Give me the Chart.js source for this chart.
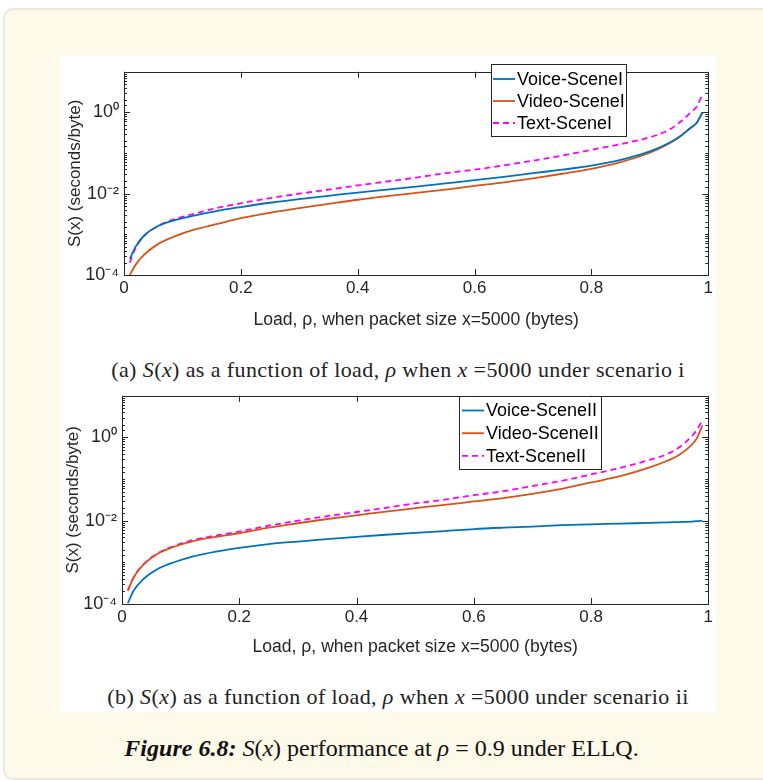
<!DOCTYPE html>
<html>
<head>
<meta charset="utf-8">
<script src="https://cdn.jsdelivr.net/npm/chart.js@4.4.1/dist/chart.umd.min.js"></script>
<style>
  body { margin: 0; width: 763px; height: 780px; overflow: hidden; position: relative; background: #fff; }
  #box { position: absolute; left: 3px; top: 8px; width: 790px; height: 768px; background: #fefaea; border: 2px solid #ebe8dc; border-radius: 10px; }
  #fig { position: absolute; left: 60px; top: 56px; width: 656px; height: 656px; background: #fff; }
  canvas { position: absolute; left: 60px; }
  #c1 { top: 56px; }
  #c2 { top: 380px; }
  .cap { position: absolute; left: 10px; width: 656px; text-align: center; line-height: 24px; letter-spacing: 0.4px;
         font-family: "Liberation Serif", "Times New Roman", serif; font-size: 22px; color: #222; }
  #figcap { position: absolute; left: 0; width: 763px; top: 733px; line-height: 30px; text-align: center;
            font-family: "Liberation Serif", "Times New Roman", serif; font-size: 24px; color: #111; }
</style>
</head>
<body>
<div id="box"></div>
<div id="fig">
  <div class="cap" style="top:302px">(a) <i>S</i>(<i>x</i>) as a function of load, <i>ρ</i> when <i>x</i> =5000 under scenario i</div>
  <div class="cap" style="top:629px">(b) <i>S</i>(<i>x</i>) as a function of load, <i>ρ</i> when <i>x</i> =5000 under scenario ii</div>
</div>
<canvas id="c1" width="656" height="284"></canvas>
<canvas id="c2" width="656" height="287"></canvas>
<div id="figcap"><b><i>Figure 6.8:</i></b> <i>S</i>(<i>x</i>) performance at <i>ρ</i> = 0.9 under ELLQ.</div>

<script>
// load values (x axis)
const rho = [0.01, 0.02, 0.035, 0.06, 0.09, 0.12, 0.16, 0.2, 0.25, 0.3, 0.35, 0.4, 0.45, 0.5,
  0.55, 0.6, 0.65, 0.7, 0.75, 0.8, 0.85, 0.9, 0.93, 0.95, 0.97, 0.98, 0.99];

// scenario i, S(x) in seconds/byte
const voiceI = [2.5e-4, 5.0e-4, 9.5e-4, 1.65e-3, 2.3e-3, 2.9e-3, 3.8e-3, 4.7e-3, 6.0e-3, 7.4e-3, 8.9e-3,
  1.07e-2, 1.26e-2, 1.5e-2, 1.8e-2, 2.15e-2, 2.6e-2, 3.2e-2, 3.9e-2, 4.9e-2, 6.8e-2, 0.11, 0.17, 0.25, 0.42, 0.55, 1.0];
const videoI = [1.0e-4, 1.8e-4, 3.2e-4, 6.0e-4, 9.3e-4, 1.3e-3, 1.8e-3, 2.5e-3, 3.4e-3, 4.4e-3, 5.6e-3,
  7.1e-3, 8.7e-3, 1.05e-2, 1.26e-2, 1.56e-2, 1.9e-2, 2.4e-2, 3.1e-2, 4.1e-2, 6.0e-2, 0.102, 0.162, 0.245, 0.42, 0.55, 1.0];
const textI = [2.0e-4, 4.7e-4, 9.3e-4, 1.66e-3, 2.45e-3, 3.2e-3, 4.5e-3, 5.8e-3, 7.8e-3, 1.0e-2, 1.26e-2,
  1.6e-2, 2.0e-2, 2.5e-2, 3.2e-2, 3.9e-2, 5.0e-2, 6.5e-2, 8.7e-2, 0.12, 0.166, 0.245, 0.355, 0.55, 1.0, 1.38, 2.75];

// scenario ii
const voiceII = [1.05e-4, 2.1e-4, 3.8e-4, 6.8e-4, 1.02e-3, 1.38e-3, 1.82e-3, 2.24e-3, 2.75e-3, 3.16e-3, 3.6e-3,
  4.1e-3, 4.6e-3, 5.1e-3, 5.6e-3, 6.3e-3, 6.8e-3, 7.2e-3, 7.8e-3, 8.2e-3, 8.5e-3, 8.9e-3, 9.1e-3, 9.3e-3, 9.5e-3, 9.8e-3, 1.0e-2];
const videoII = [2.1e-4, 4.4e-4, 8.3e-4, 1.58e-3, 2.4e-3, 3.2e-3, 4.1e-3, 5.0e-3, 6.8e-3, 8.7e-3, 1.1e-2,
  1.35e-2, 1.66e-2, 2.0e-2, 2.4e-2, 2.9e-2, 3.5e-2, 4.4e-2, 5.8e-2, 8.3e-2, 0.117, 0.19, 0.275, 0.38, 0.63, 0.93, 1.95];
const textII = [2.1e-4, 4.4e-4, 8.5e-4, 1.62e-3, 2.5e-3, 3.4e-3, 4.4e-3, 5.5e-3, 7.6e-3, 1.0e-2, 1.29e-2,
  1.62e-2, 2.04e-2, 2.6e-2, 3.2e-2, 4.1e-2, 5.1e-2, 6.8e-2, 9.1e-2, 0.129, 0.186, 0.29, 0.4, 0.575, 1.0, 1.48, 2.6];

const labelsI = ["Voice-SceneI", "Video-SceneI", "Text-SceneI"];
const labelsII = ["Voice-SceneII", "Video-SceneII", "Text-SceneII"];

// tick labels
const xTicks = [0, 0.2, 0.4, 0.6, 0.8, 1];
const xTickLabels = ["0", "0.2", "0.4", "0.6", "0.8", "1"];
const yLabelExp = [-4, -2, 0];

const SUP = { "0": "⁰", "1": "¹", "2": "²", "3": "³", "4": "⁴", "-": "⁻" };
const pow10 = e => "10" + String(e).split("").map(c => SUP[c]).join("");
const expOf = v => {
  const e = Math.log10(v);
  return Math.abs(e - Math.round(e)) < 1e-6 ? Math.round(e) : null;
};

const AXIS = "#262626";
const FONT = "'Liberation Sans', Arial, sans-serif";

// MATLAB-like box with inward ticks on all four sides
const matlabBox = {
  id: "matlabBox",
  afterDatasetsDraw(chart) {
    const { ctx, chartArea: a, scales: { x, y } } = chart;
    ctx.save();
    ctx.strokeStyle = AXIS;
    ctx.lineWidth = 1;
    ctx.beginPath();
    x.ticks.forEach(t => {
      const px = Math.round(x.getPixelForValue(t.value)) + 0.5;
      ctx.moveTo(px, a.bottom); ctx.lineTo(px, a.bottom - 6);
      ctx.moveTo(px, a.top); ctx.lineTo(px, a.top + 6);
    });
    y.ticks.forEach(t => {
      const e = expOf(t.value);
      const len = e !== null && yLabelExp.includes(e) ? 6 : 3;
      const py = Math.round(y.getPixelForValue(t.value)) + 0.5;
      ctx.moveTo(a.left, py); ctx.lineTo(a.left + len, py);
      ctx.moveTo(a.right, py); ctx.lineTo(a.right - len, py);
    });
    ctx.stroke();
    ctx.strokeRect(Math.round(a.left) + 0.5, Math.round(a.top) + 0.5, Math.round(a.width), Math.round(a.height));
    ctx.restore();
  }
};

// legend box drawn inside the axes, like MATLAB's "northeast" legend
const boxLegend = {
  id: "boxLegend",
  afterDraw(chart, args, o) {
    const { ctx } = chart;
    const sets = chart.data.datasets;
    ctx.save();
    ctx.fillStyle = "#fff";
    ctx.fillRect(o.left, o.top, o.width, o.height);
    ctx.strokeStyle = AXIS;
    ctx.lineWidth = 1;
    ctx.strokeRect(o.left + 0.5, o.top + 0.5, o.width, o.height);
    ctx.font = "18px " + FONT;
    ctx.textBaseline = "middle";
    sets.forEach((ds, i) => {
      const cy = o.top + o.first + i * o.row;
      ctx.strokeStyle = ds.borderColor;
      ctx.lineWidth = ds.borderWidth;
      ctx.setLineDash(ds.borderDash || []);
      ctx.beginPath();
      ctx.moveTo(o.left + o.lineFrom, cy);
      ctx.lineTo(o.left + o.lineTo, cy);
      ctx.stroke();
      ctx.setLineDash([]);
      ctx.fillStyle = "#000";
      ctx.fillText(ds.label, o.left + o.textX, cy + 1);
    });
    ctx.restore();
  }
};

function series(label, values, color, dash) {
  return {
    label,
    data: rho.map((r, i) => ({ x: r, y: values[i] })),
    borderColor: color,
    borderWidth: 1.8,
    borderDash: dash,
    pointRadius: 0,
    cubicInterpolationMode: "monotone",
    fill: false
  };
}

function makeChart(id, labels, voice, video, text, L) {
  new Chart(document.getElementById(id), {
    type: "line",
    data: {
      datasets: [
        series(labels[0], voice, "#0072BD"),
        series(labels[1], video, "#D95319"),
        series(labels[2], text, "#FF00FF", [6, 4])
      ]
    },
    options: {
      responsive: false,
      animation: false,
      layout: { padding: { top: L.top, right: L.right, left: 0, bottom: 0 } },
      plugins: {
        legend: { display: false },
        tooltip: { enabled: false },
        boxLegend: L.legend
      },
      scales: {
        x: {
          type: "linear",
          min: 0,
          max: 1,
          afterBuildTicks: s => { s.ticks = xTicks.map(v => ({ value: v })); },
          afterFit: s => { s.height = L.xHeight; },
          grid: { display: false, drawTicks: false },
          border: { display: false },
          ticks: {
            padding: 3,
            color: AXIS,
            font: { family: FONT, size: 17 },
            maxRotation: 0,
            callback: (v, i) => xTickLabels[i]
          },
          title: {
            display: true,
            text: "Load, ρ, when packet size x=5000 (bytes)",
            color: AXIS,
            font: { family: FONT, size: 17.6 },
            padding: { top: 0, bottom: 9 }
          }
        },
        y: {
          type: "logarithmic",
          min: 1e-4,
          max: 10,
          afterFit: s => { s.width = L.yWidth; },
          grid: { display: false, drawTicks: false },
          border: { display: false },
          ticks: {
            autoSkip: false,
            padding: 5,
            color: AXIS,
            font: { family: FONT, size: 18 },
            callback: v => {
              const e = expOf(v);
              return e !== null && yLabelExp.includes(e) ? pow10(e) : "";
            }
          },
          title: {
            display: true,
            text: "S(x) (seconds/byte)",
            color: AXIS,
            font: { family: FONT, size: 17 },
            padding: { top: L.yTitlePad, bottom: 0 }
          }
        }
      }
    },
    plugins: [matlabBox, boxLegend]
  });
}

makeChart("c1", labelsI, voiceI, videoI, textI, {
  top: 7, right: 6, xHeight: 65, yWidth: 64, yTitlePad: 5,
  legend: { left: 431, top: 8, width: 135, height: 72, first: 15, row: 22, lineFrom: 2, lineTo: 24, textX: 26 }
});

makeChart("c2", labelsII, voiceII, videoII, textII, {
  top: 12, right: 4, xHeight: 63, yWidth: 62, yTitlePad: 3,
  legend: { left: 399, top: 16, width: 142, height: 73, first: 14.5, row: 22.7, lineFrom: 3, lineTo: 25, textX: 27 }
});
</script>
</body>
</html>
